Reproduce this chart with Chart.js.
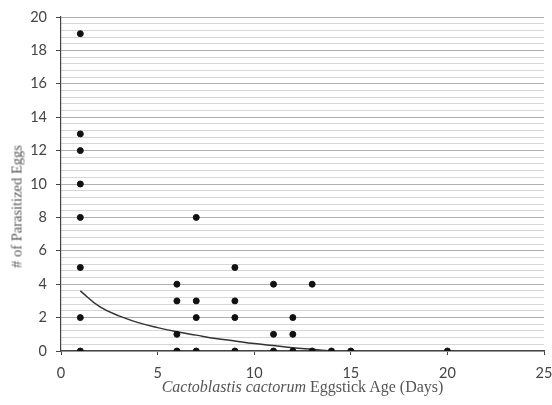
<!DOCTYPE html>
<html>
<head>
<meta charset="utf-8">
<script src="https://cdn.jsdelivr.net/npm/chart.js@4.4.0/dist/chart.umd.min.js"></script>
<style>
  html, body { margin: 0; padding: 0; background: #fff; }
  #wrap { position: relative; width: 552px; height: 405px; }
  #xtitle { position: absolute; left: 61px; width: 483px; top: 378px; text-align: center;
    font-family: "Liberation Serif", serif; font-size: 16px; color: #555; white-space: nowrap; }
  #ytitle { position: absolute; left: 17px; top: 207px; width: 200px; margin-left: -100px; margin-top: -9px;
    text-align: center; transform: rotate(-90deg);
    font-family: "Liberation Serif", serif; font-size: 14.5px; color: #555; white-space: nowrap; }
</style>
</head>
<body>
<div id="wrap">
  <canvas id="c" width="552" height="405"></canvas>
  <div id="ytitle"># of Parasitized Eggs</div>
  <div id="xtitle"><i>Cactoblastis cactorum</i> Eggstick Age (Days)</div>
</div>
<script>
// Observed data points (eggstick age in days, # parasitized eggs)
const ageDays = [1,1,1,1,1,1,1,1, 6,6,6,6, 7,7,7,7, 9,9,9,9, 11,11,11, 12,12,12, 13,13, 14, 15, 20];
const parasitized = [0,2,5,8,10,12,13,19, 0,1,3,4, 0,2,3,8, 0,2,3,5, 0,1,4, 0,1,2, 0,4, 0, 0, 0];

// Trend line
const trendX = [1, 2, 3, 4, 5, 6, 7, 8, 9, 10, 11, 12, 13, 14];
const trendY = [3.6, 2.65, 2.1, 1.7, 1.4, 1.15, 0.95, 0.75, 0.6, 0.45, 0.33, 0.2, 0.1, 0.0];

const xTicks = [0, 5, 10, 15, 20, 25];
const yLabelStep = 2;
const yGridStep = 0.4;

const isMajor = v => Math.abs(v / yLabelStep - Math.round(v / yLabelStep)) < 1e-6;

new Chart(document.getElementById('c'), {
  type: 'scatter',
  data: {
    datasets: [
      {
        label: 'Observed',
        data: ageDays.map((x, i) => ({ x: x, y: parasitized[i] })),
        backgroundColor: '#111',
        borderColor: '#111',
        pointRadius: 3,
        pointHoverRadius: 3
      },
      {
        label: 'Trend',
        type: 'line',
        data: trendX.map((x, i) => ({ x: x, y: trendY[i] })),
        borderColor: '#333',
        borderWidth: 1.5,
        pointRadius: 0,
        tension: 0.4,
        fill: false
      }
    ]
  },
  options: {
    responsive: false,
    animation: false,
    layout: { padding: { left: 0, right: 8, top: 17, bottom: 0 } },
    plugins: { legend: { display: false }, tooltip: { enabled: false } },
    scales: {
      x: {
        type: 'linear',
        min: 0, max: 25,
        afterBuildTicks: s => { s.ticks = xTicks.map(v => ({ value: v })); },
        afterFit: s => { s.height = 54; s.paddingLeft = 0; s.paddingRight = 0; },
        border: { display: true, color: '#444', width: 1.2 },
        grid: { drawOnChartArea: false, drawTicks: true, tickLength: 4, color: '#444' },
        ticks: { color: '#444', font: { family: 'Lato', size: 14.5 }, padding: 10 }
      },
      y: {
        type: 'linear',
        min: 0, max: 20,
        ticks: {
          stepSize: yGridStep,
          autoSkip: false,
          color: '#444',
          font: { family: 'Lato', size: 14.5 },
          padding: 9,
          callback: v => isMajor(v) ? String(Math.round(v)) : ''
        },
        afterFit: s => { s.width = 61; s.paddingTop = 0; s.paddingBottom = 0; },
        border: { display: true, color: '#444', width: 1.2 },
        grid: {
          color: ctx => isMajor(ctx.tick.value) ? '#b0b0b0' : '#d6d6d6',
          lineWidth: 1,
          tickLength: 5,
          tickColor: ctx => isMajor(ctx.tick.value) ? '#444' : 'rgba(0,0,0,0)'
        }
      }
    }
  }
});
</script>
</body>
</html>
